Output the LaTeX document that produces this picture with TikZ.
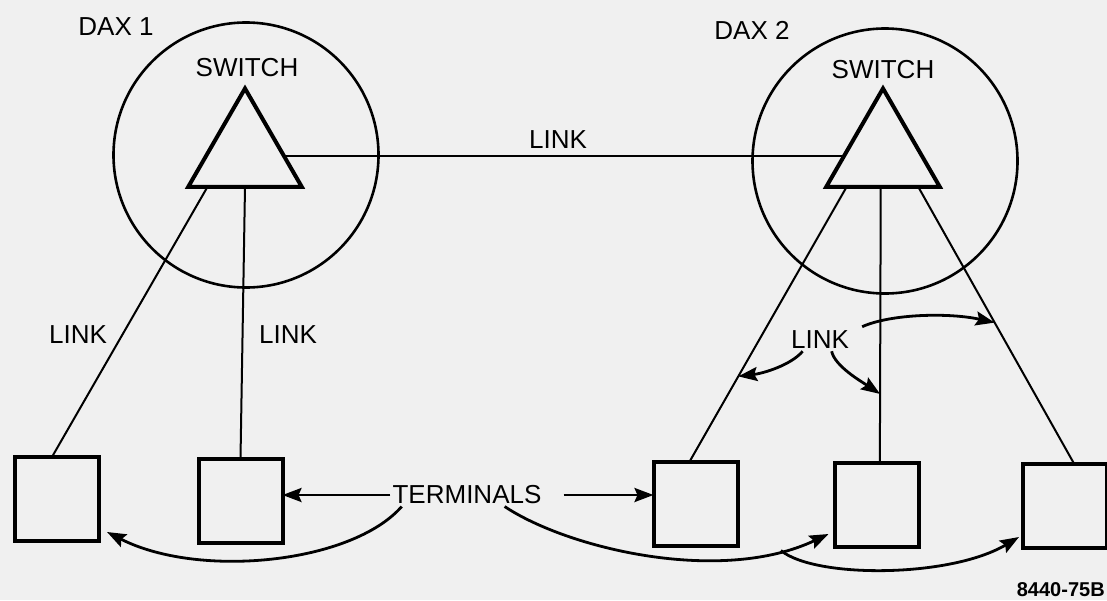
\documentclass[tikz,border=0pt]{standalone}
\usepackage{fontspec}
\setmainfont{Liberation Sans}
\usetikzlibrary{arrows,arrows.meta,calc,shapes.geometric}

\begin{document}
\begin{tikzpicture}[x=1pt,y=-1pt
	,font=\fontsize{26}{30}\selectfont
	,every node/.style={inner sep=2pt}
	,semithick]
  \tikzstyle{dax}=[circle,draw,line width=2.6pt,minimum size=265pt,inner sep=0pt,outer sep=0pt]
  \tikzstyle{switch}=[regular polygon,regular polygon sides=3,draw,line width=4pt
  ,minimum size=131pt,inner sep=0pt,outer sep=0pt]
  \tikzstyle{terminal}=[rectangle,draw,line width=4pt,minimum size=84pt,inner sep=0pt,outer sep=0pt]
  \tikzstyle{link}=[line width=2pt]
  \tikzstyle{pointer}=[-{Stealth[length=19pt,width=14pt,inset=3pt]},line width=2.8pt]

  \useasboundingbox[fill=black!6] (0,0) rectangle (1107,600);

  % 2 daxes
  \node[dax](c1) at (246,155) {};
  \node[dax](c2) at (885,161) {};
  \node(d1) at (116,27) {DAX 1};
  \node(d2) at (752,30) {DAX 2};
  % 2 switches
  \node[switch](s1) at (245,154) {};
  \node[switch](s2) at (883,154) {};
  \node(sl1) at (247,68) {SWITCH};
  \node(sl2) at (883,70) {SWITCH};
  % 5 terminals
  \node[terminal](t1) at (57,499) {};
  \node[terminal](t2) at (240.5,500.5) {};
  \node[terminal](t3) at (695.5,503.5) {};
  \node[terminal](t4) at (876.5,505) {};
  \node[terminal](t5) at (1065,506) {};
  % labels
  \node(lk0) at (558,140) {LINK};
  \node(lk1) at (78,335) {LINK};
  \node(lk2) at (288,335) {LINK};
  \node(lk3) at (820,340) {LINK};
  \node(term) at (467,495) {TERMINALS};
  \node[anchor=east,font=\bfseries\fontsize{20}{24}\selectfont](fig) at (1107,590) {8440-75B};

  % ends of the links
  \coordinate (s1a) at ($(s1.corner 2)!0.17!(s1.corner 3)$);
  \coordinate (s1b) at ($(s1.corner 2)!0.5!(s1.corner 3)$);
  \coordinate (s1r) at ($(s1.corner 1)!0.69!(s1.corner 3)$);
  \coordinate (s2l) at ($(s2.corner 1)!0.69!(s2.corner 2)$);
  \coordinate (s2a) at ($(s2.corner 2)!0.18!(s2.corner 3)$);
  \coordinate (s2b) at ($(s2.corner 2)!0.48!(s2.corner 3)$);
  \coordinate (s2c) at ($(s2.corner 2)!0.81!(s2.corner 3)$);
  \coordinate (t1n) at ($(t1.north west)!0.44!(t1.north east)$);
  \coordinate (t3n) at ($(t3.north west)!0.43!(t3.north east)$);
  \coordinate (t4n) at ($(t4.north west)!0.54!(t4.north east)$);
  \coordinate (t5n) at ($(t5.north west)!0.61!(t5.north east)$);

  % switch to switch
  \path [link] (s1r) edge (s2l);
  % DAX 1
  \path [link] (s1a) edge (t1n);
  \path [link] (s1b) edge (t2.north);
  % DAX 2
  \path [link] (s2a) edge (t3n);
  \path [link] (s2b) edge (t4n);
  \path [link] (s2c) edge (t5n);

  % LINK pointers
  \coordinate (la) at ($(s2a)!0.69!(t3n)$);
  \coordinate (lb) at ($(s2b)!0.75!(t4n)$);
  \coordinate (lc) at ($(s2c)!0.49!(t5n)$);
  \draw [pointer] (lk3.213) .. controls +(-12,14) and +(25,-3) .. (la);
  \draw [pointer] (lk3.316) .. controls +(3,15) and +(-18,-12) .. (lb);
  \draw [pointer,shorten <=12pt] (lk3.15) .. controls +(40,-18) and +(-45,-10) .. (lc);

  % TERMINALS pointers
  \draw [pointer] (term.west) -- (term.west -| t2.east);
  \draw [pointer,shorten <=20pt] (term.east) -- (term.east -| t3.west);
  \draw [pointer] (term.190) .. controls +(-50,57) and +(92,47)
    .. ([xshift=8pt,yshift=9pt]t1.south east);
  \draw [pointer] (term.343) .. controls +(63,42) and +(-108,51)
    .. ([xshift=-6pt,yshift=13pt]t4.south west) coordinate[pos=0.86] (tx);
  \draw [pointer] (tx) .. controls +(34,28) and +(-69,41)
    .. ([xshift=-4pt,yshift=11pt]t5.south west);
\end{tikzpicture}
\end{document}
